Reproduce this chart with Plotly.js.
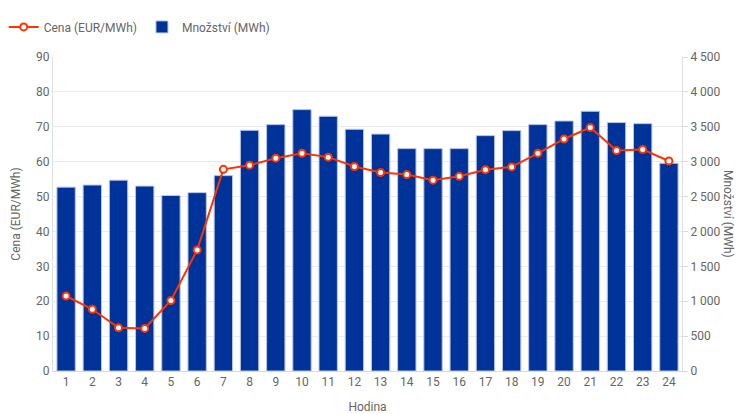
<!DOCTYPE html>
<html>
<head>
<meta charset="utf-8">
<script src="https://cdn.plot.ly/plotly-3.0.1.min.js"></script>
<style>html,body{margin:0;padding:0;background:#fff;}#chart{width:737px;height:414px;}</style>
</head>
<body>
<div id="chart"></div>
<script>
const hours = ['1','2','3','4','5','6','7','8','9','10','11','12','13','14','15','16','17','18','19','20','21','22','23','24'];
const price = [21.5,17.7,12.4,12.2,20.2,34.7,57.8,59.0,61.0,62.4,61.3,58.6,56.9,56.3,54.7,55.8,57.7,58.5,62.4,66.5,69.8,63.2,63.5,60.2];
const volume = [2635,2665,2735,2650,2515,2556,2800,3449,3531,3746,3650,3464,3395,3187,3187,3187,3373,3445,3531,3583,3722,3560,3545,2977];
const leftTicks = [0,10,20,30,40,50,60,70,80,90];
const rightTicks = [0,500,1000,1500,2000,2500,3000,3500,4000,4500];

const font = "Roboto, 'Noto Sans', Arial, sans-serif";
const traces = [
  {
    type: 'bar', name: 'Množství (MWh)', legendrank: 2,
    x: hours, y: volume, yaxis: 'y',
    marker: {color: '#003399', line: {color: '#b9c3e3', width: 1}},
    width: 0.7
  },
  {
    type: 'scatter', mode: 'lines+markers', name: 'Cena (EUR/MWh)', legendrank: 1,
    x: hours, y: price, yaxis: 'y2',
    line: {color: '#ff3300', width: 2},
    marker: {size: 7, color: '#ffffff', line: {color: '#ff3300', width: 2}}
  }
];
const layout = {
  width: 737, height: 414,
  margin: {l: 53, r: 55, t: 57, b: 43, pad: 0},
  paper_bgcolor: '#fff', plot_bgcolor: '#fff',
  font: {family: font, size: 12, color: '#666'},
  separators: ', ',
  showlegend: true,
  legend: {orientation: 'h', x: 0.005, xref: 'container', xanchor: 'left', y: 0.97, yref: 'container', yanchor: 'top',
           font: {family: font, size: 12, color: '#666'}, bgcolor: 'rgba(0,0,0,0)'},
  xaxis: {
    type: 'category', range: [-0.5, 23.5], showgrid: false, showline: true, linecolor: '#d9d9d9', linewidth: 1,
    ticks: '', tickfont: {size: 12, color: '#666'},
    title: {text: 'Hodina', font: {size: 12, color: '#666'}, standoff: 14}
  },
  yaxis: {
    range: [0, 4500], tickvals: rightTicks, side: 'right',
    showgrid: true, gridcolor: '#ebebeb', showline: true, linecolor: '#e0e0e0', zeroline: false,
    ticks: 'outside', ticklen: 5, tickcolor: '#d9d9d9',
    tickformat: ',d', tickfont: {size: 12, color: '#666'}
  },
  yaxis2: {
    range: [0, 90], tickvals: leftTicks, overlaying: 'y', side: 'left', showgrid: false,
    showline: true, linecolor: '#e0e0e0', zeroline: false, ticks: '',
    tickfont: {size: 12, color: '#666'},
    title: {text: 'Cena (EUR/MWh)', font: {size: 12, color: '#666'}, standoff: 12}
  },
  annotations: [{
    text: 'Množství (MWh)', textangle: 90, xref: 'paper', yref: 'paper',
    x: 1, xanchor: 'center', xshift: 46, y: 0.5, yanchor: 'middle', showarrow: false,
    font: {family: font, size: 12, color: '#666'}
  }]
};
Plotly.newPlot('chart', traces, layout, {displayModeBar: false, staticPlot: true});
</script>
</body>
</html>
